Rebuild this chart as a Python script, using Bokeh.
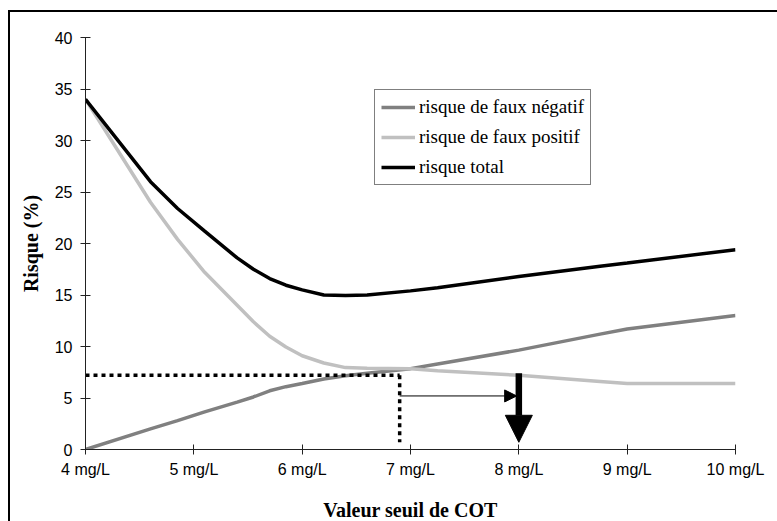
from bokeh.plotting import figure
from bokeh.models import FixedTicker, Arrow, NormalHead, Legend, LegendItem, Range1d
from bokeh.embed import file_html
from bokeh.resources import INLINE

# --- data ---
cot = [4.0, 4.6, 4.85, 5.1, 5.4, 5.55, 5.7, 5.85, 6.0, 6.2, 6.4, 6.6, 7.0, 7.25, 8.0, 8.75, 9.0, 10.0]
faux_negatif = [0.0, 2.0, 2.8, 3.65, 4.6, 5.1, 5.7, 6.1, 6.4, 6.85, 7.15, 7.4, 7.85, 8.3, 9.65, 11.2, 11.7, 13.0]
faux_positif = [34.0, 24.0, 20.4, 17.2, 14.0, 12.4, 11.0, 9.95, 9.1, 8.4, 7.95, 7.9, 7.85, 7.65, 7.2, 6.6, 6.4, 6.4]
risque_total = [34.0, 26.0, 23.4, 21.2, 18.6, 17.5, 16.6, 15.95, 15.5, 15.0, 14.95, 15.0, 15.4, 15.7, 16.8, 17.8, 18.1, 19.4]

x_ticks = [4, 5, 6, 7, 8, 9, 10]
x_tick_labels = ["4 mg/L", "5 mg/L", "6 mg/L", "7 mg/L", "8 mg/L", "9 mg/L", "10 mg/L"]
y_ticks = [0, 5, 10, 15, 20, 25, 30, 35, 40]

series_names = ["risque de faux négatif", "risque de faux positif", "risque total"]

# annotation values
seuil_x = 6.9          # crossing of the two risks
seuil_y = 7.2
seuil_y_bas = 0.7
fleche_fine_y = 5.2
fleche_fine_fin = 7.98
seuil_choisi = 8.0
fleche_haut = 7.4
fleche_bas = 0.7

SERIF = "Liberation Serif"
SANS = "Liberation Sans"

p = figure(frame_width=650, frame_height=412,
           x_range=Range1d(4, 10), y_range=Range1d(0, 40),
           output_backend="svg", toolbar_location=None,
           min_border_left=75, min_border_right=42,
           min_border_top=25, min_border_bottom=72)
p.styles = {"border-left": "2px solid black", "border-top": "2px solid black",
            "margin-top": "10px", "margin-left": "8px"}
p.outline_line_color = None
p.xgrid.visible = False
p.ygrid.visible = False
p.background_fill_color = "white"
p.border_fill_color = "white"

r_neg = p.line(cot, faux_negatif, line_color="#808080", line_width=3.5)
r_pos = p.line(cot, faux_positif, line_color="#c0c0c0", line_width=3.5)
r_tot = p.line(cot, risque_total, line_color="black", line_width=3.5)

# dotted threshold lines
p.line([4.0, seuil_x], [seuil_y, seuil_y], line_color="black", line_width=3.5,
       line_dash="4 4")
p.line([seuil_x, seuil_x], [seuil_y, seuil_y_bas], line_color="black", line_width=3.5,
       line_dash="4 4")

# thin arrow to the right
p.add_layout(Arrow(end=NormalHead(size=12, fill_color="black", line_color="black"),
                   x_start=seuil_x, y_start=fleche_fine_y,
                   x_end=fleche_fine_fin, y_end=fleche_fine_y,
                   line_color="black", line_width=1))
# thick arrow down
p.add_layout(Arrow(end=NormalHead(size=27, fill_color="black", line_color="black"),
                   x_start=seuil_choisi, y_start=fleche_haut,
                   x_end=seuil_choisi, y_end=fleche_bas,
                   line_color="black", line_width=6.5))

# axes
for ax in (p.xaxis[0], p.yaxis[0]):
    ax.axis_line_color = "#222222"
    ax.axis_line_width = 1
    ax.major_tick_line_color = "#222222"
    ax.major_tick_in = 5
    ax.major_tick_out = 5
    ax.minor_tick_line_color = None
    ax.major_label_text_font = SANS
    ax.major_label_text_font_size = "16px"
    ax.major_label_text_color = "black"
    ax.axis_label_text_font = SERIF
    ax.axis_label_text_font_style = "bold"
    ax.axis_label_text_font_size = "20px"
    ax.axis_label_text_color = "black"

p.xaxis.ticker = FixedTicker(ticks=x_ticks)
p.xaxis.major_label_overrides = {t: l for t, l in zip(x_ticks, x_tick_labels)}
p.xaxis.major_label_standoff = 6
p.xaxis.axis_label = "Valeur seuil de COT"
p.xaxis.axis_label_standoff = 18

p.yaxis.ticker = FixedTicker(ticks=y_ticks)
p.yaxis.major_label_standoff = 8
p.yaxis.axis_label = "Risque (%)"
p.yaxis.axis_label_standoff = 10

legend = Legend(items=[LegendItem(label=series_names[0], renderers=[r_neg]),
                       LegendItem(label=series_names[1], renderers=[r_pos]),
                       LegendItem(label=series_names[2], renderers=[r_tot])],
                location=(289, 264))
legend.label_text_font = SERIF
legend.label_text_font_size = "19px"
legend.label_text_color = "black"
legend.glyph_width = 34
legend.glyph_height = 20
legend.label_height = 20
legend.label_standoff = 4
legend.padding = 6
legend.spacing = 8
legend.margin = 0
legend.border_line_color = "black"
legend.border_line_width = 1.5
legend.background_fill_alpha = 1
p.add_layout(legend, "center")

open("out.html", "w").write(file_html(p, INLINE))
